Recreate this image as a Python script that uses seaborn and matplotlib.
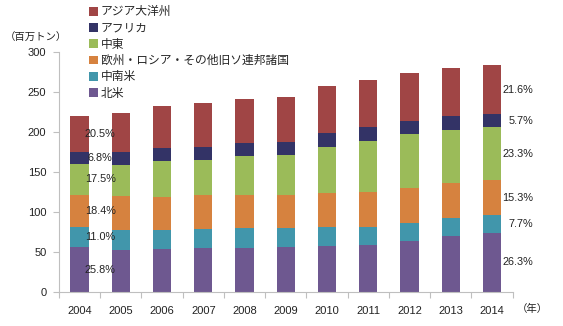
import matplotlib
matplotlib.use("Agg")
import matplotlib.pyplot as plt
import seaborn as sns
import numpy as np
import pandas as pd

years = ["2004", "2005", "2006", "2007", "2008", "2009", "2010", "2011", "2012", "2013", "2014"]
regions = ["北米", "中南米", "欧州・ロシア・その他旧ソ連邦諸国", "中東", "アフリカ", "アジア大洋州"]
north_america = [56.9, 52.9, 54.1, 55.4, 55.4, 56.6, 57.9, 59.1, 64.1, 70.4, 74.7]
latin_america = [24.3, 25.0, 23.8, 23.7, 25.0, 23.8, 23.7, 22.5, 22.5, 22.5, 21.9]
europe_russia = [40.6, 42.5, 41.2, 42.5, 41.2, 41.2, 42.5, 43.8, 43.8, 43.7, 43.5]
middle_east = [38.6, 38.7, 45.0, 43.8, 48.8, 50.0, 57.5, 63.7, 67.5, 66.3, 66.2]
africa = [15.0, 16.3, 16.3, 16.2, 16.2, 16.3, 17.5, 17.5, 16.2, 17.5, 16.2]
asia_oceania = [45.2, 48.7, 52.5, 55.0, 55.0, 56.2, 58.8, 58.8, 60.0, 60.0, 61.4]
share_2004 = ["25.8%", "11.0%", "18.4%", "17.5%", "6.8%", "20.5%"]
share_2014 = ["26.3%", "7.7%", "15.3%", "23.3%", "5.7%", "21.6%"]
colors = ["#6E5890", "#4196AB", "#D6823F", "#9BBB59", "#333366", "#A04545"]

series = [north_america, latin_america, europe_russia, middle_east, africa, asia_oceania]

sns.set_theme(style="white")
plt.rcParams["font.family"] = ["Liberation Sans", "Noto Sans CJK JP"]

fig = plt.figure(figsize=(5.63, 3.26), dpi=100)
ax = fig.add_axes([0.1046, 0.1034, 0.806, 0.7362])

df = pd.DataFrame({"year": years})
bottoms = np.zeros(len(years))
for name, vals, col in zip(regions, series, colors):
    df["v"] = vals
    sns.barplot(data=df, x="year", y="v", color=col, bottom=bottoms.copy(),
                width=0.44, ax=ax, label=name, saturation=1, linewidth=0)
    bottoms += np.array(vals)

# percentage labels at segment centres for first and last year
cum0 = np.cumsum([s[0] for s in series])
cum1 = np.cumsum([s[-1] for s in series])
for k in range(len(series)):
    c0 = cum0[k] - series[k][0] / 2
    c1 = cum1[k] - series[k][-1] / 2
    ax.text(0.5, c0, share_2004[k], ha="center", va="center", fontsize=7.8,
            color="#222222", clip_on=False)
    ax.text(11.0, c1, share_2014[k], ha="right", va="center", fontsize=7.8,
            color="#222222", clip_on=False)

ax.set_ylim(0, 300)
ax.set_xlim(-0.5, 10.5)
ax.set_yticks(range(0, 301, 50))
ax.set_xlabel("")
ax.set_ylabel("")
for s in ["top", "right"]:
    ax.spines[s].set_visible(False)
for s in ["left", "bottom"]:
    ax.spines[s].set_color("#BFBFBF")
    ax.spines[s].set_linewidth(0.8)
ax.tick_params(axis="y", which="major", length=4, color="#BFBFBF", width=0.8,
               labelsize=8, pad=5, left=True, labelcolor="#222222")
ax.tick_params(axis="x", which="major", length=0, labelsize=8, pad=10,
               labelcolor="#222222")
ax.set_xticks(np.arange(-0.5, 10.6, 1), minor=True)
ax.tick_params(axis="x", which="minor", length=4, color="#BFBFBF", width=0.8,
               bottom=True)

fig.text(0.008, 0.885, "（百万トン）", fontsize=7.5, color="#222222", va="center")
fig.text(0.918, 0.052, "（年）", fontsize=7.5, color="#222222", va="center")

h, l = ax.get_legend_handles_labels()
fig.legend(h[::-1], l[::-1], loc="upper left", bbox_to_anchor=(0.143, 1.006),
           frameon=False, fontsize=8.5, handlelength=0.75, handleheight=0.75,
           handletextpad=0.25, labelspacing=0.36, borderpad=0.2)
if ax.legend_:
    ax.legend_.remove()

fig.savefig("out.png", dpi=100)
